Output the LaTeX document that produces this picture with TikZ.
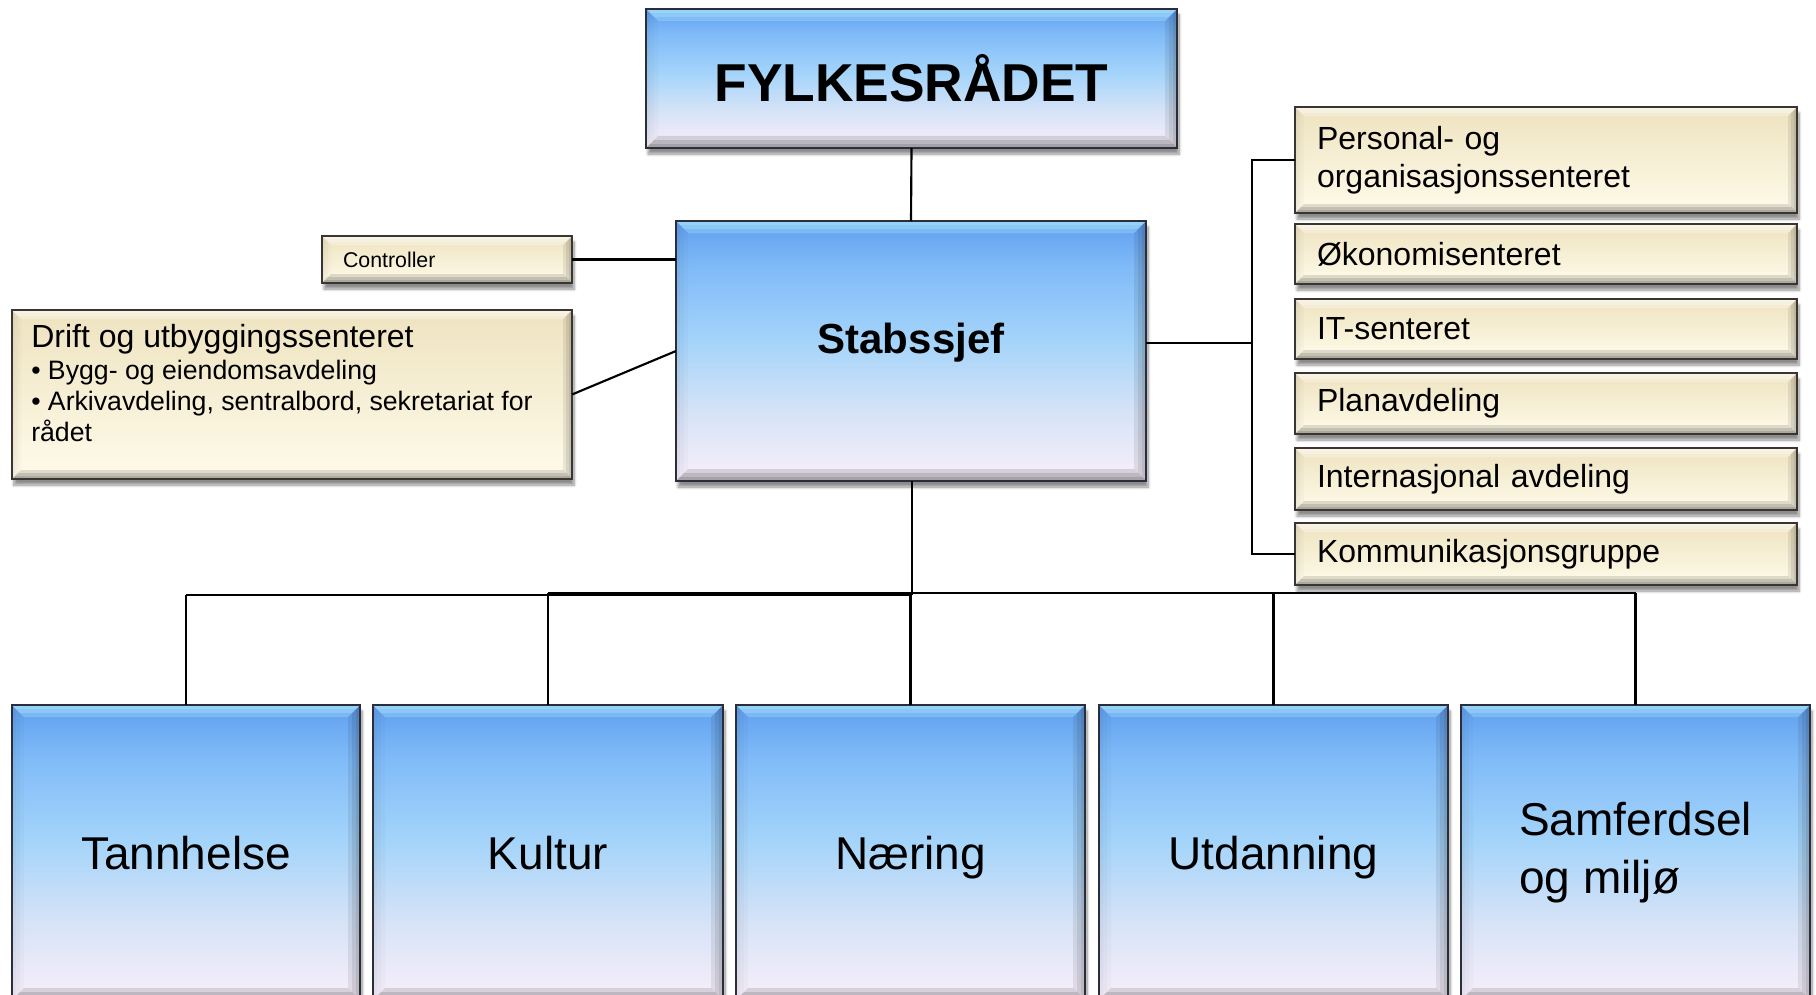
\documentclass[tikz,border=0pt]{standalone}
\usepackage{fontspec}
\setmainfont{Liberation Sans}
\usetikzlibrary{shadows.blur}

\definecolor{lav}{HTML}{F8EFFA}
\definecolor{lavblue}{HTML}{D7E3F7}
\definecolor{skyb}{HTML}{A4D4FA}
\definecolor{midb}{HTML}{80BBF8}
\definecolor{topb}{HTML}{5F9FEE}
\definecolor{crm}{HTML}{FFFBEA}
\definecolor{tanc}{HTML}{EEE3C0}
\definecolor{edgeblue}{HTML}{2A2E3A}
\definecolor{edgetan}{HTML}{3A3530}
\definecolor{bevcyan}{HTML}{B4ECFF}

% vertical gradients (0bp = bottom of the shape, 25..75bp span the shape)
\pgfdeclareverticalshading{bluegrad}{100bp}{color(0bp)=(lav); color(25bp)=(lav);
  color(38bp)=(lavblue); color(52bp)=(skyb); color(66bp)=(midb); color(75bp)=(topb); color(100bp)=(topb)}
\pgfdeclareverticalshading{beigegrad}{100bp}{color(0bp)=(crm); color(25bp)=(crm);
  color(75bp)=(tanc); color(100bp)=(tanc)}

% bevelled frame inside a box: #1 width, #2..#5 fill styles for top, bottom, left, right
\newcommand\orgbevel[5]{%
  \fill[#2] (path picture bounding box.north west) -- (path picture bounding box.north east)
    -- ([shift={(-#1,#1)}]path picture bounding box.north east)
    -- ([shift={(#1,#1)}]path picture bounding box.north west) -- cycle;
  \fill[#3] (path picture bounding box.south west) -- (path picture bounding box.south east)
    -- ([shift={(-#1,-#1)}]path picture bounding box.south east)
    -- ([shift={(#1,-#1)}]path picture bounding box.south west) -- cycle;
  \fill[#4] (path picture bounding box.north west) -- ([shift={(#1,#1)}]path picture bounding box.north west)
    -- ([shift={(#1,-#1)}]path picture bounding box.south west)
    -- (path picture bounding box.south west) -- cycle;
  \fill[#5] (path picture bounding box.north east) -- ([shift={(-#1,#1)}]path picture bounding box.north east)
    -- ([shift={(-#1,-#1)}]path picture bounding box.south east)
    -- (path picture bounding box.south east) -- cycle;
}
% three stacked bevels give a soft ramp towards the edge
\newcommand\softbevel[5]{%
  \pgfmathsetmacro\bevmid{#1*0.66}%
  \pgfmathsetmacro\bevin{#1*0.33}%
  \orgbevel{#1}{#2}{#3}{#4}{#5}%
  \orgbevel{\bevmid}{#2}{#3}{#4}{#5}%
  \orgbevel{\bevin}{#2}{#3}{#4}{#5}}

% box from pixel corners: style, name, x1, y1, x2, y2, text
\newcommand\orgnode[7]{%
  \node[#1, minimum width={(#5-#3)*0.75pt}, minimum height={(#6-#4)*0.75pt}]
    (#2) at ({(#3+#5)/2},{(#4+#6)/2}) {#7};}

\tikzset{
  orgbase/.style={line width=1.4pt, inner sep=0pt, outer sep=0pt,
    blur shadow={shadow xshift=1.5pt, shadow yshift=-4.5pt, shadow opacity=45, shadow blur steps=8}},
  bluebox/.style={orgbase, draw=edgeblue, shading=bluegrad,
    path picture={\softbevel{12}{fill=bevcyan,fill opacity=0.3}{fill=black,fill opacity=0.12}
      {fill=black,fill opacity=0.02}{fill=black,fill opacity=0.08}}},
  tanbox/.style={orgbase, draw=edgetan, shading=beigegrad,
    path picture={\softbevel{9}{fill=white,fill opacity=0.28}{fill=black,fill opacity=0.12}
      {fill=black,fill opacity=0.02}{fill=black,fill opacity=0.08}}},
  sidebox/.style={tanbox, align=left, inner xsep=16.5pt, text width=343.5pt,
    font=\fontsize{24}{28.5}\selectfont},
  unitbox/.style={bluebox, align=left, font=\fontsize{34.5}{44}\selectfont},
  oneline/.style={text height=25.2pt, text depth=0pt},
  link/.style={line width=1.6pt, black},
  txt/.style={inner sep=0pt, anchor=base west},
}

\begin{document}
\begin{tikzpicture}[x=0.75pt, y=-0.75pt]
\useasboundingbox (0,0) rectangle (1816,995);

% top levels
\orgnode{bluebox, font=\fontsize{40}{48}\selectfont\bfseries}{fylke}{646}{9}{1177}{148}{FYLKESRÅDET}
\orgnode{bluebox}{stab}{676}{221}{1146}{481}{}
\node[font=\fontsize{31.5}{38}\selectfont\bfseries, inner sep=0pt] (stabt) at (911,343) {Stabssjef};

% staff units on the left
\orgnode{tanbox, align=left, inner xsep=15.75pt, text width=156pt,
  font=\fontsize{16}{19}\selectfont}{ctrl}{322}{236}{572}{283}{Controller}
\orgnode{tanbox}{drift}{12}{310}{572}{479}{}
\node[txt, font=\fontsize{24}{28}\selectfont] (drift1) at (31,347) {Drift og utbyggingssenteret};
\node[txt, font=\fontsize{20}{24}\selectfont] (drift2) at (31,379) {• Bygg- og eiendomsavdeling};
\node[txt, font=\fontsize{20}{24}\selectfont] (drift3) at (31,410) {• Arkivavdeling, sentralbord, sekretariat for};
\node[txt, font=\fontsize{20}{24}\selectfont] (drift4) at (31,441) {rådet};

% staff units on the right
\orgnode{sidebox}{pers}{1295}{107}{1797}{213}{Personal- og\\organisasjonssenteret}
\orgnode{sidebox}{okon}{1295}{224}{1797}{284}{Økonomisenteret}
\orgnode{sidebox}{it}{1295}{299}{1797}{359}{IT-senteret}
\orgnode{sidebox}{plan}{1295}{373}{1797}{434}{Planavdeling}
\orgnode{sidebox}{intl}{1295}{448}{1797}{510}{Internasjonal avdeling}
\orgnode{sidebox}{komm}{1295}{523}{1797}{585}{Kommunikasjonsgruppe}

% sectors
\orgnode{unitbox, oneline}{tann}{12}{705}{360}{1000}{Tannhelse}
\orgnode{unitbox, oneline}{kult}{373}{705}{723}{1000}{Kultur}
\orgnode{unitbox, oneline}{naer}{736}{705}{1085}{1000}{Næring}
\orgnode{unitbox, oneline}{utd}{1099}{705}{1448}{1000}{Utdanning}
\orgnode{unitbox}{samf}{1461}{705}{1810}{1000}{Samferdsel\\og miljø}

% connectors
\coordinate (brk) at (1252,343);
\coordinate (busA) at (912,595);
\coordinate (busB) at (910,593);

\draw[link] (fylke.south) -- (stab.north);
\draw[link] (ctrl.east) -- (ctrl.east -| stab.west);
\draw[link] (drift.east) -- (stab.west);
\draw[link] (stab.east |- brk) -- (brk);
\draw[link] (pers.west) -- (pers.west -| brk) -- (komm.west -| brk) -- (komm.west);

\draw[link, line width=2pt] (stab.south -| busA) -- (busA);
\draw[link] (busA) -- (busA -| tann.north);
\draw[link] (busB -| kult.north) -- (busB -| samf.north);
\draw[link] (tann.north) -- (tann.north |- busA);
\draw[link] (kult.north) -- (kult.north |- busB);
\draw[link] (naer.north) -- (naer.north |- busB);
\draw[link] (utd.north) -- (utd.north |- busB);
\draw[link] (samf.north) -- (samf.north |- busB);
\end{tikzpicture}
\end{document}
